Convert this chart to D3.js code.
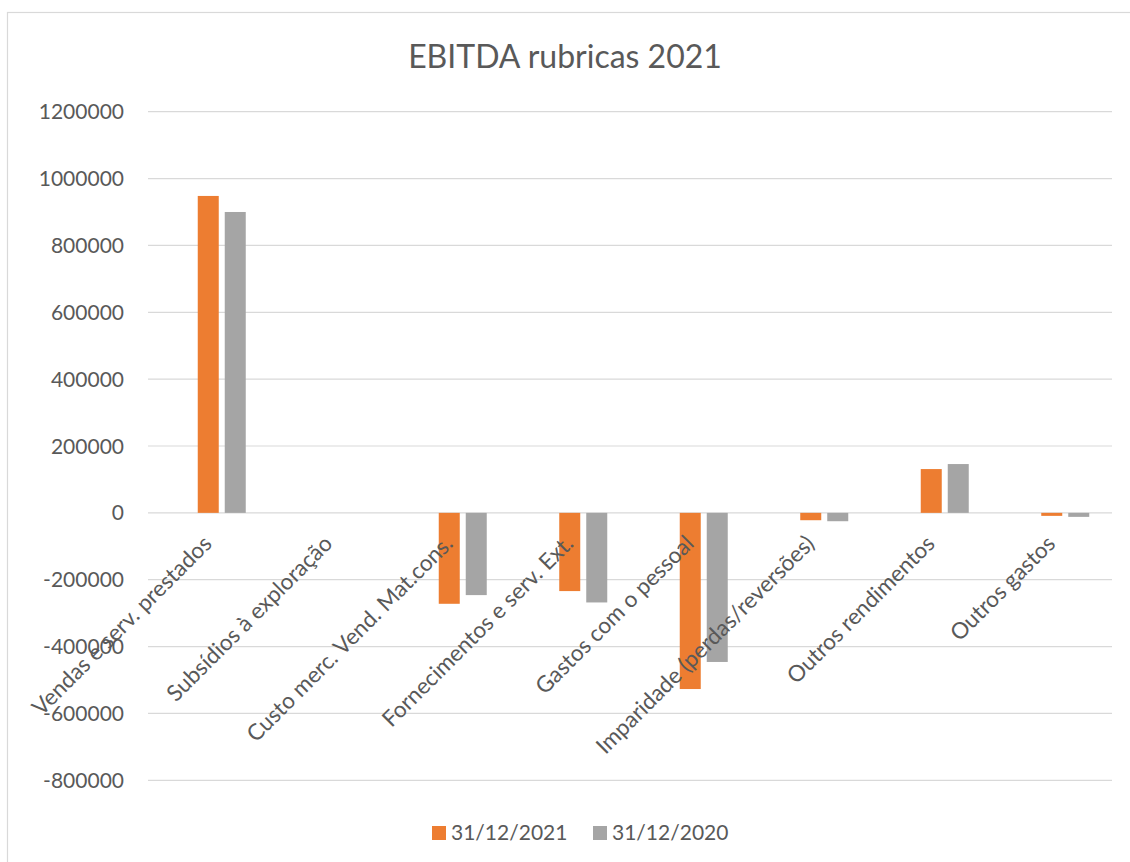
<!DOCTYPE html>
<meta charset="utf-8">
<head>
    <script type="text/javascript" src="https://cdn.jsdelivr.net/npm/d3@7"></script>
    <style>
        body { margin: 0; background: #fff; }
        text { font-family: Lato, "Open Sans", sans-serif; fill: #595959; }
    </style>
    <title>EBITDA rubricas 2021</title>
</head>
<body>
<script>
    // chart values
    var categories = ["Vendas e serv. prestados", "Subsídios à exploração", "Custo merc. Vend. Mat.cons.",
        "Fornecimentos e serv. Ext.", "Gastos com o pessoal", "Imparidade (perdas/reversões)",
        "Outros rendimentos", "Outros gastos"];
    var values2021 = [948000, 0, -272000, -234000, -527000, -22000, 131000, -9000];
    var values2020 = [900000, 0, -246000, -268000, -446000, -25000, 146000, -12000];
    var seriesNames = ["31/12/2021", "31/12/2020"];
    var yTicks = [-800000, -600000, -400000, -200000, 0, 200000, 400000, 600000, 800000, 1000000, 1200000];

    var colors = ["#ED7D31", "#A5A5A5"];

    var width = 1130, height = 862;
    var svg = d3.select("body").append("svg")
        .attr("width", width)
        .attr("height", height);

    // outer chart border (runs off the right and bottom of the picture)
    svg.append("rect")
        .attr("x", 7.5).attr("y", 12.5)
        .attr("width", 1200).attr("height", 900)
        .attr("fill", "none")
        .attr("stroke", "#D9D9D9")
        .attr("stroke-width", 1.2);

    var x = d3.scaleBand().domain(categories).range([148, 1112]);
    // a blank series sits in front of the two real ones, as in the source sheet
    var x1 = d3.scaleBand().domain(["blank", "s2021", "s2020"]).range([0, 75]).paddingInner(6 / 27);
    var y = d3.scaleLinear().domain([-800000, 1200000]).range([780.3, 111.7]);

    // gridlines
    svg.append("g").selectAll("line")
        .data(yTicks).join("line")
        .attr("x1", 148).attr("x2", 1112)
        .attr("y1", d => y(d)).attr("y2", d => y(d))
        .attr("stroke", "#D9D9D9")
        .attr("stroke-width", 1.2);

    // y tick labels
    svg.append("g").selectAll("text")
        .data(yTicks).join("text")
        .attr("x", 124)
        .attr("y", d => y(d))
        .attr("dy", "0.36em")
        .attr("text-anchor", "end")
        .attr("font-size", "21px")
        .text(d => d);

    // bars
    var rows = categories.map((c, i) => ({cat: c, s2021: values2021[i], s2020: values2020[i]}));
    var keys = ["s2021", "s2020"];
    keys.forEach(function (k, j) {
        svg.append("g").selectAll("rect")
            .data(rows).join("rect")
            .attr("x", d => x(d.cat) + x.bandwidth() / 2 - 37.5 + x1(k))
            .attr("width", x1.bandwidth())
            .attr("y", d => y(Math.max(0, d[k])))
            .attr("height", d => Math.abs(y(d[k]) - y(0)))
            .attr("fill", colors[j]);
    });

    // category labels, rotated
    svg.append("g").selectAll("text")
        .data(categories).join("text")
        .attr("transform", d => "translate(" + (x(d) + x.bandwidth() / 2 + 5) + ",545) rotate(-45)")
        .attr("text-anchor", "end")
        .attr("font-size", "22.5px")
        .text(d => d);

    // title
    svg.append("text")
        .attr("x", 565)
        .attr("y", 68)
        .attr("text-anchor", "middle")
        .attr("font-size", "32px")
        .text("EBITDA rubricas 2021");

    // legend
    var legendX = [432, 593];
    seriesNames.forEach(function (n, i) {
        svg.append("rect")
            .attr("x", legendX[i]).attr("y", 826)
            .attr("width", 14).attr("height", 14)
            .attr("fill", colors[i]);
        svg.append("text")
            .attr("x", legendX[i] + 19)
            .attr("y", 840)
            .attr("font-size", "21px")
            .text(n);
    });
</script>
</body>
</html>
